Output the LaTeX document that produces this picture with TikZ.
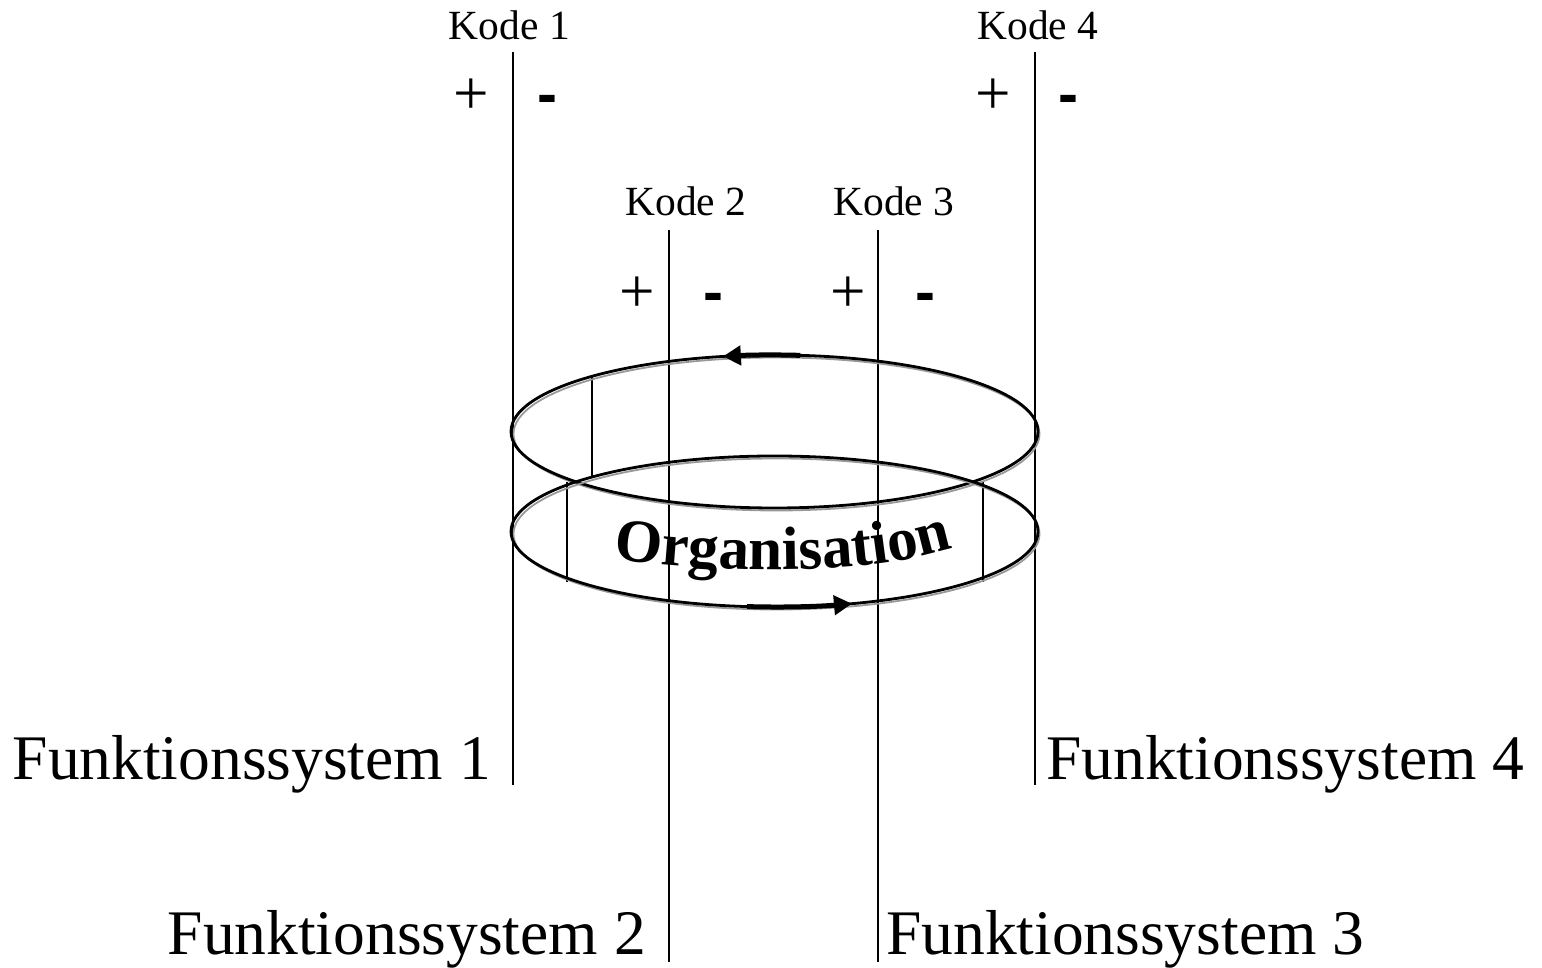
\documentclass[tikz,border=0pt]{standalone}
\usepackage{fontspec}
\setmainfont{Liberation Serif}
\newfontfamily\dashfont{Liberation Sans Bold}
\newfontfamily\orgfont{Liberation Serif Bold}
\newcommand\orgtype{\orgfont\upshape\fontsize{61}{64}\selectfont}
\usetikzlibrary{decorations.text, arrows.meta}

\begin{document}
\begin{tikzpicture}[x=1pt, y=1pt,
  codelabel/.style={font=\fontsize{41.5}{44}\selectfont, anchor=base, inner sep=0pt},
  plussign/.style={font=\fontsize{63}{66}\selectfont, anchor=base, inner sep=0pt},
  minussign/.style={font=\dashfont\fontsize{60}{66}\selectfont, anchor=base, inner sep=0pt},
  syslabel/.style={font=\fontsize{63.5}{66}\selectfont, inner sep=0pt},
  axisline/.style={line width=1.5pt},
  ring/.style={line width=2.8pt},
  ringshade/.style={line width=1.8pt, black!40},
  flow/.style={line width=5pt, -{Triangle[length=18pt, width=19pt]}},
]
\useasboundingbox (0,0) rectangle (1542,968);

% ring centres
\coordinate (upc) at (774.5,536.5);
\coordinate (lowc) at (774.5,436.5);

% system axes
\coordinate (s1top) at (513,916);  \coordinate (s1bot) at (513,183);
\coordinate (s4top) at (1035,916); \coordinate (s4bot) at (1035,183);
\coordinate (s2top) at (669,738);  \coordinate (s2bot) at (669,6);
\coordinate (s3top) at (878,738);  \coordinate (s3bot) at (878,6);
\draw[axisline] (s1top) -- (s1bot);
\draw[axisline] (s4top) -- (s4bot);
\draw[axisline] (s2top) -- (s2bot);
\draw[axisline] (s3top) -- (s3bot);

% short struts between the rings
\coordinate (ta) at (592,591); \coordinate (tb) at (592,490);
\coordinate (ua) at (567,486); \coordinate (ub) at (567,386);
\coordinate (va) at (983,486); \coordinate (vb) at (983,386);
\draw[axisline] (ta) -- (tb);
\draw[axisline] (ua) -- (ub);
\draw[axisline] (va) -- (vb);

% the two rings, each with a soft doubled outline
\draw[ringshade] ([shift={(2,-2.5)}]upc) ellipse[x radius=263, y radius=76.5];
\draw[ring] (upc) ellipse[x radius=263.5, y radius=76.5];
\draw[ringshade] ([shift={(2,-2.5)}]lowc) ellipse[x radius=263, y radius=75.5];
\draw[ring] (lowc) ellipse[x radius=263.5, y radius=75.5];

% direction of circulation
\draw[flow] ([shift={(84.4:263.5 and 76.5)}]upc) arc[start angle=84.4, end angle=101.3, x radius=263.5, y radius=76.5];
\draw[flow] ([shift={(264:263.5 and 75.5)}]lowc) arc[start angle=264, end angle=287.1, x radius=263.5, y radius=75.5];

% curved ring label
\coordinate (oa) at (613,409);
\coordinate (ob) at (700,398);
\coordinate (oc) at (850,388);
\coordinate (od) at (954,420);
\path[decorate, decoration={text along path, text align=center,
  text={|\orgtype|Organisation}}] (oa) .. controls (ob) and (oc) .. (od);

% code labels
\node[codelabel] (k1) at (509.5,928) {Kode 1};
\node[codelabel] (k4) at (1038,928) {Kode 4};
\node[codelabel] (k2) at (686,752) {Kode 2};
\node[codelabel] (k3) at (894,752) {Kode 3};

% code values
\node[plussign] (p1) at (471,853) {+};
\node[minussign] (m1) at (547,853) {-};
\node[plussign] (p4) at (993,853) {+};
\node[minussign] (m4) at (1068,853) {-};
\node[plussign] (p2) at (637,655) {+};
\node[minussign] (m2) at (713,655) {-};
\node[plussign] (p3) at (848,655) {+};
\node[minussign] (m3) at (925,655) {-};

% system names
\node[syslabel, anchor=base east] (f1) at (491,188) {Funktionssystem 1};
\node[syslabel, anchor=base west] (f4) at (1046,188) {Funktionssystem 4};
\node[syslabel, anchor=base east] (f2) at (646,13) {Funktionssystem 2};
\node[syslabel, anchor=base west] (f3) at (886,13) {Funktionssystem 3};
\end{tikzpicture}
\end{document}
